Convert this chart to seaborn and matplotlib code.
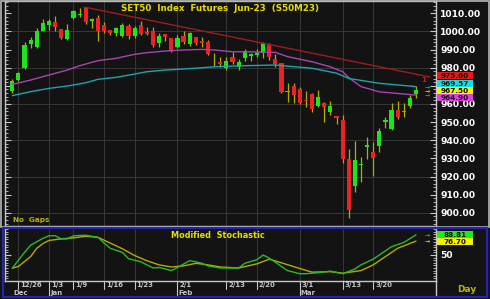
import numpy as np
import pandas as pd
import matplotlib
matplotlib.use("Agg")
import matplotlib.pyplot as plt
import matplotlib.transforms as mtransforms
from matplotlib.patches import Rectangle
from matplotlib.ticker import MultipleLocator, FixedLocator
import seaborn as sns

# ---------------- data ----------------
dates = ["12/23", "12/26", "12/27", "12/28", "12/29", "12/30",
         "1/3", "1/4", "1/5", "1/6", "1/9", "1/10", "1/11", "1/12", "1/13",
         "1/16", "1/17", "1/18", "1/19", "1/20", "1/23", "1/24", "1/25", "1/26", "1/27",
         "1/30", "1/31", "2/1", "2/2", "2/3", "2/6", "2/7", "2/8", "2/9", "2/10",
         "2/13", "2/14", "2/15", "2/16", "2/17", "2/20", "2/21", "2/22", "2/23", "2/24",
         "2/27", "2/28", "3/1", "3/2", "3/3", "3/7", "3/8", "3/9", "3/10",
         "3/13", "3/14", "3/15", "3/16", "3/17", "3/20", "3/21", "3/22", "3/23", "3/24",
         "3/27", "3/28", "3/29"]

opens = [967.3, 973.2, 979.7, 992.9, 991.2, 1000.2, 1003.5, 1005.4, 1001.3, 995.6,
         1007.2, 1009.2, 1013.3, 1005.9, 1007.6, 1003.5, 1000.8, 999.0, 997.5, 1003.0,
         997.5, 1003.5, 999.5, 1000.4, 993.8, 998.6, 996.2, 991.2, 997.5, 993.1,
         996.8, 994.9, 994.3, 986.6, 983.3, 979.7, 986.1, 980.5, 985.2, 986.6,
         987.0, 988.0, 992.5, 984.8, 982.4, 966.4, 969.9, 968.1, 962.2, 965.5,
         958.9, 960.4, 955.4, 953.4, 951.1, 929.5, 914.9, 926.1, 936.4, 933.7,
         936.8, 950.0, 946.2, 956.7, 955.6, 958.9, 965.7]
highs = [973.8, 977.8, 994.3, 996.8, 1001.7, 1006.9, 1006.9, 1008.5, 1001.5, 1004.1,
         1011.6, 1012.7, 1013.5, 1007.2, 1009.0, 1005.4, 1001.0, 1002.5, 1004.5, 1004.1,
         1003.0, 1005.9, 1002.3, 1002.6, 999.0, 998.8, 996.5, 998.0, 1000.2, 999.9,
         997.2, 997.1, 995.5, 988.0, 985.7, 985.7, 988.8, 984.6, 990.3, 988.3,
         990.1, 994.0, 993.5, 987.6, 982.8, 971.7, 971.7, 969.2, 967.3, 966.0,
         967.7, 961.2, 961.6, 953.6, 953.9, 935.0, 939.7, 930.9, 941.6, 939.0,
         946.6, 953.0, 960.4, 961.6, 960.7, 965.0, 970.0]
lows = [966.0, 972.7, 979.5, 990.7, 991.0, 1000.0, 1000.8, 1000.4, 995.6, 995.4,
        1007.0, 1007.8, 1004.1, 1002.1, 994.9, 999.0, 998.2, 997.6, 996.8, 995.6,
        996.2, 998.0, 998.0, 991.2, 991.6, 994.9, 988.5, 990.7, 993.1, 992.0,
        992.5, 991.2, 987.0, 981.0, 980.2, 978.7, 981.9, 978.7, 983.7, 983.9,
        985.7, 985.2, 984.2, 980.5, 966.2, 961.2, 960.7, 960.0, 958.5, 955.7,
        958.1, 950.2, 953.9, 949.0, 927.6, 896.9, 911.6, 917.1, 929.5, 920.4,
        933.7, 946.6, 945.5, 951.5, 953.0, 958.0, 963.4]
closes = [972.7, 977.2, 992.3, 995.3, 1000.2, 1004.8, 1005.8, 1002.4, 996.5, 1000.8,
          1011.4, 1009.6, 1005.4, 1006.9, 1000.2, 1000.2, 999.3, 1002.1, 1003.5, 997.5,
          1001.7, 998.6, 998.8, 992.5, 997.5, 996.8, 989.2, 996.2, 994.3, 999.3,
          993.5, 993.8, 987.4, 986.2, 982.0, 983.7, 983.0, 983.0, 989.4, 987.4,
          988.0, 993.5, 985.7, 982.0, 966.8, 966.8, 964.9, 960.7, 961.8, 957.0,
          964.0, 958.1, 958.9, 952.3, 929.5, 901.5, 929.1, 926.9, 937.4, 930.0,
          945.2, 951.0, 956.7, 952.6, 956.3, 963.1, 967.5]

# moving averages (read at sampled trading days)
ma_purple_idx = [0, 3, 6, 9, 11, 14, 17, 20, 22, 25, 28, 31, 33, 36, 38, 43, 45, 49, 52, 54, 55, 57, 60, 63, 66]
ma_purple = [970.8, 973.2, 976.0, 978.7, 981.1, 983.9, 985.2, 987.4, 988.3, 989.2, 989.8, 990.1, 989.8,
             988.8, 988.8, 988.5, 986.1, 983.3, 980.5, 977.8, 974.5, 969.6, 966.7, 965.8, 964.9]
ma_cyan_idx = [0, 3, 6, 9, 12, 14, 17, 20, 22, 25, 28, 31, 33, 36, 38, 43, 49, 53, 55, 60, 63, 66]
ma_cyan = [964.6, 966.8, 968.6, 969.9, 971.7, 973.6, 974.7, 976.5, 977.8, 978.7, 979.3, 980.0, 980.5,
           980.9, 981.1, 981.5, 979.7, 977.0, 974.1, 971.4, 970.5, 969.57]

# down trend line anchors (bar index, price)
trend_idx = [12, 41]
trend_val = [1013.3, 993.5]
trend_end = 68.3

last_labels = ["975.60", "969.57", "967.50", "964.90"]
last_values = [975.60, 969.57, 967.50, 964.90]

# modified stochastic
stoch_g_idx = [0, 1, 2, 3, 5, 6, 7, 8, 9, 10, 12, 14, 15, 16, 18, 19, 21, 23, 24, 26, 27, 29, 30, 31, 32,
               34, 36, 37, 38, 40, 41, 42, 44, 45, 47, 48, 50, 52, 54, 56, 57, 59, 61, 62, 64, 66]
stoch_g = [24.6, 40, 55, 69, 82, 87, 87, 81, 81, 87, 88, 84, 73, 63, 55, 43, 37, 25, 26, 20, 26, 39, 37, 34, 29,
           25, 25, 25, 34, 41, 50, 44, 28, 20, 14, 14, 16, 19, 14, 23, 31, 42, 58, 66, 74, 88.81]
stoch_y_idx = [0, 1, 3, 4, 5, 6, 8, 10, 12, 14, 16, 18, 20, 22, 24, 26, 28, 30, 32, 34, 37, 40, 42, 44, 47,
               49, 52, 54, 57, 59, 61, 63, 66]
stoch_y = [24.6, 28, 47, 63, 72, 78, 81, 83, 86, 84, 73, 62, 49, 39, 31, 27, 29, 34, 31, 27, 25, 33, 42, 35, 24,
           17, 18, 15, 20, 31, 47, 63, 76.7]
stoch_labels = ["88.81", "76.70"]
stoch_last = [88.81, 76.70]

tick_dates = ["12/26", "1/3", "1/9", "1/16", "1/23", "2/1", "2/13", "2/20", "3/1", "3/13", "3/20"]
month_names = ["Dec", "Jan", "Feb", "Mar"]
month_first = ["12/23", "1/3", "2/1", "3/1"]

# ---------------- style ----------------
BG = "#131313"
GRID = "#383838"
FRAME = "#b8b8b8"
AXC = "#c8c8c8"
YEL = "#e6dc00"
OLIVE = "#bcb400"
WICK = "#b4ac00"
GREEN = "#1ae61a"
RED = "#ee2222"
PURPLE = "#a944b0"
CYAN = "#1ea5a8"
TREND = "#a01c1c"
SGREEN = "#28bb28"
SYEL = "#b4aa00"

sns.set_theme(style="dark")
plt.rcParams["font.family"] = ["DejaVu Sans"]
plt.rcParams["axes.facecolor"] = BG
plt.rcParams["figure.facecolor"] = BG

W, H = 490, 299
fig = plt.figure(figsize=(W / 100, H / 100), dpi=100, facecolor=BG)


def fx(px):
    return px / W


def fy(py):
    return 1 - py / H


step = 6.117
x0px = 12.3
xl = ((5 - x0px) / step, (436 - x0px) / step)

ax = fig.add_axes([fx(5), fy(226), fx(436) - fx(5), fy(1) - fy(226)])
ax2 = fig.add_axes([fx(5), fy(281), fx(436) - fx(5), fy(229) - fy(281)])
for a in (ax, ax2):
    a.set_facecolor(BG)
    a.set_xlim(*xl)

n = len(dates)
xi = np.arange(n)
o = np.array(opens); c = np.array(closes); h = np.array(highs); l = np.array(lows)
tick_pos = [dates.index(d) for d in tick_dates]

# ---------- main panel ----------
ax.set_ylim(892.7, 1016.8)
for a in (ax, ax2):
    a.set_xticks(tick_pos)
    a.xaxis.grid(True, color=GRID, lw=0.7)
    a.tick_params(axis="x", length=0, labelbottom=False)
for v in np.arange(900, 1001, 20):
    ax.axhline(v, color=GRID, lw=0.7, zorder=0.5)

ax.vlines(xi, l, h, colors=WICK, lw=0.9, zorder=2)
body_col = [GREEN if cc >= oo else RED for oo, cc in zip(o, c)]
ax.bar(xi, np.maximum(np.abs(c - o), 0.5), bottom=np.minimum(o, c), width=0.68,
       color=body_col, linewidth=0, zorder=3)

df_p = pd.DataFrame({"i": ma_purple_idx, "v": ma_purple})
df_c = pd.DataFrame({"i": ma_cyan_idx, "v": ma_cyan})
sns.lineplot(data=df_p, x="i", y="v", ax=ax, color=PURPLE, lw=1.0, zorder=4)
sns.lineplot(data=df_c, x="i", y="v", ax=ax, color=CYAN, lw=1.0, zorder=4)
slope = (trend_val[1] - trend_val[0]) / (trend_idx[1] - trend_idx[0])
df_t = pd.DataFrame({"i": [trend_idx[0], trend_end],
                     "v": [trend_val[0], trend_val[0] + slope * (trend_end - trend_idx[0])]})
sns.lineplot(data=df_t, x="i", y="v", ax=ax, color=TREND, lw=1.0, zorder=4)
ax.set_xlabel(""); ax.set_ylabel("")
ax.set_xlim(*xl)

# the value boxes cover the 970 label in the reference
hidden_ticks = [970]
ax.yaxis.tick_right()
ax.yaxis.set_major_locator(MultipleLocator(10))
ax.yaxis.set_minor_locator(MultipleLocator(2))
ax.yaxis.set_major_formatter(plt.FuncFormatter(
    lambda v, p: "" if round(v) in hidden_ticks else f"{v:.2f}"))
ax.tick_params(axis="y", which="both", direction="in", color=AXC, left=True, right=True,
               labelleft=False, labelright=True)
ax.tick_params(axis="y", which="major", length=4, width=0.8, pad=3, labelsize=6.6, labelcolor="white")
ax.tick_params(axis="y", which="minor", length=2, width=0.6)
for lab in ax.get_yticklabels():
    lab.set_fontweight("bold")
for s in ("left", "right"):
    ax.spines[s].set_visible(True); ax.spines[s].set_color(AXC); ax.spines[s].set_linewidth(1)
for s in ("top", "bottom"):
    ax.spines[s].set_visible(True); ax.spines[s].set_color(FRAME); ax.spines[s].set_linewidth(1)

ax.text(0.499, 0.985, "SET50  Index  Futures  Jun-23  (S50M23)", transform=ax.transAxes,
        ha="center", va="top", color=YEL, fontsize=6.3, fontweight="bold")
ax.text(0.019, 0.012, "No  Gaps", transform=ax.transAxes, ha="left", va="bottom",
        color=OLIVE, fontsize=5.2, fontweight="bold")


def stack_positions(vals, gap):
    order = list(np.argsort(vals)[::-1])
    groups = [[k] for k in order]
    while True:
        centers = []
        for g in groups:
            m = np.mean([vals[k] for k in g])
            centers.append(m + gap * (len(g) - 1) / 2)
        merged = False
        for gi in range(len(groups) - 1):
            bottom_prev = centers[gi] - gap * (len(groups[gi]) - 1)
            if bottom_prev - centers[gi + 1] < gap:
                groups[gi] = groups[gi] + groups[gi + 1]
                del groups[gi + 1]
                merged = True
                break
        if not merged:
            break
    pos = {}
    for g, ctr in zip(groups, centers):
        for j, k in enumerate(g):
            pos[k] = ctr - j * gap
    return [pos[k] for k in range(len(vals))]


def value_boxes(a, labels, vals, colors, gap, axw_px):
    trans = mtransforms.blended_transform_factory(a.transAxes, a.transData)
    pos = stack_positions(vals, gap)
    xb = 1 + 1.0 / axw_px
    wb = 36.0 / axw_px
    for lab, p, col in zip(labels, pos, colors):
        a.add_patch(Rectangle((xb, p - gap / 2), wb, gap * 0.96, transform=trans, facecolor=col,
                              edgecolor="none", clip_on=False, zorder=6))
        a.text(xb + wb / 2, p - gap * 0.02, lab, transform=trans, ha="center", va="center_baseline",
               fontsize=5.2, fontweight="bold", color="#101010", clip_on=False, zorder=7)


value_boxes(ax, last_labels, last_values, ["#e81818", "#10e0e0", "#f4f000", "#e040e0"], 7 / 1.813, 431)
for v, col in zip(last_values[1:], [CYAN, "#e8e000", "#d040d0"]):
    ax.text(67.8, v, "→", ha="center", va="center", color=col, fontsize=4.5, fontweight="bold", zorder=6)
ax.text(67.2, last_values[0] - 2.6, "1", ha="center", va="center", color="#c02020", fontsize=5,
        fontweight="bold", zorder=6)

# ---------- stochastic panel ----------
ax2.set_ylim(0, 100)
df_sg = pd.DataFrame({"i": stoch_g_idx, "v": stoch_g})
df_sy = pd.DataFrame({"i": stoch_y_idx, "v": stoch_y})
sns.lineplot(data=df_sy, x="i", y="v", ax=ax2, color=SYEL, lw=1.0, zorder=4)
sns.lineplot(data=df_sg, x="i", y="v", ax=ax2, color=SGREEN, lw=1.0, zorder=4)
ax2.set_xlabel(""); ax2.set_ylabel("")
ax2.set_xlim(*xl)
ax2.yaxis.tick_right()
ax2.yaxis.set_major_locator(FixedLocator([50]))
ax2.yaxis.set_minor_locator(MultipleLocator(5))
ax2.tick_params(axis="y", which="both", direction="in", color=AXC, left=True, right=True,
                labelleft=False, labelright=True)
ax2.tick_params(axis="y", which="major", length=4, width=0.8, pad=3, labelsize=6.6, labelcolor="white")
ax2.tick_params(axis="y", which="minor", length=2, width=0.6)
for lab in ax2.get_yticklabels():
    lab.set_fontweight("bold")
for s in ("left", "right", "bottom"):
    ax2.spines[s].set_visible(True); ax2.spines[s].set_color(AXC); ax2.spines[s].set_linewidth(1)
ax2.spines["top"].set_visible(False)
ax2.text(0.494, 0.96, "Modified  Stochastic", transform=ax2.transAxes, ha="center", va="top",
         color=YEL, fontsize=5.9, fontweight="bold")

value_boxes(ax2, stoch_labels, stoch_last, ["#18f018", "#f4f000"], 7 * 1.94, 431)
for v, col in zip(stoch_last, [SGREEN, "#d8d000"]):
    ax2.text(67.8, v, "→", ha="center", va="center", color=col, fontsize=4.5, fontweight="bold", zorder=6)

# date axis rows
btr = mtransforms.blended_transform_factory(ax2.transData, ax2.transAxes)
ax_h_px = 52.0
month_pos = [dates.index(d) for d in month_first]
for p, t in zip(tick_pos, tick_dates):
    low = -15 / ax_h_px if p in month_pos else -8 / ax_h_px
    ax2.plot([p, p], [0, low], transform=btr, color=AXC, lw=0.8, clip_on=False)
    ax2.text(p + 2 / step, -4 / ax_h_px, t, transform=btr, ha="left", va="center",
             color="#c4c4c4", fontsize=5, fontweight="bold", clip_on=False)
for p, t in zip(month_pos, month_names):
    ax2.text(p + 1 / step, -11.8 / ax_h_px, t, transform=btr, ha="left", va="center",
             color="#c4c4c4", fontsize=5, fontweight="bold", clip_on=False)
ax2.plot([xl[1], xl[1]], [0, -15 / ax_h_px], transform=btr, color=AXC, lw=1, clip_on=False)

fig.text(fx(467), fy(289), "Day", ha="center", va="center", color=OLIVE, fontsize=6.5,
         fontweight="bold")

# frames
fig.patches.append(Rectangle((fx(0.7), fy(226.5)), fx(489.3) - fx(0.7), fy(0.7) - fy(226.5),
                             transform=fig.transFigure, fill=False, edgecolor=FRAME, lw=1.2))
fig.patches.append(Rectangle((fx(3), fy(297)), fx(487) - fx(3), fy(228) - fy(297),
                             transform=fig.transFigure, fill=False, edgecolor="#2424b4", lw=1.6))

fig.savefig("out.png", dpi=100, facecolor=BG)
